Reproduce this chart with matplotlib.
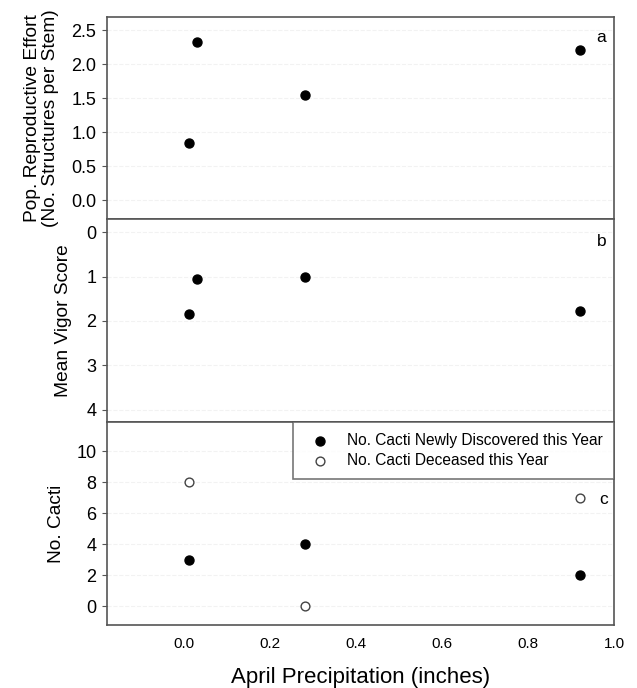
import numpy as np
from matplotlib import pyplot as plt

plt.rcParams['font.family'] = ['Liberation Sans', 'DejaVu Sans']

# April precipitation (inches) for each year
precip_a = [0.01, 0.03, 0.28, 0.92]
effort = [0.85, 2.33, 1.55, 2.21]

precip_b = [0.01, 0.03, 0.28, 0.92]
vigor = [1.85, 1.06, 1.01, 1.77]

precip_c = [0.01, 0.28, 0.92]
discovered = [3, 4, 2]
deceased = [8, 0, 7]

fig, axes = plt.subplots(3, 1, figsize=(6.37, 6.88), dpi=100, sharex=True)
fig.subplots_adjust(left=0.168, right=0.964, top=0.976, bottom=0.091, hspace=0)

frame = '#555555'
grid_col = '#f2f2f2'

for ax in axes:
    for s in ax.spines.values():
        s.set_color(frame)
        s.set_linewidth(1.2)
    ax.tick_params(axis='y', labelsize=13, length=3.6, color=frame, pad=4)
    ax.tick_params(axis='x', length=0, labelsize=11, pad=8)
    ax.set_xlim(-0.18, 1.0)

ax1, ax2, ax3 = axes

# panel a
ax1.scatter(precip_a, effort, s=42, color='black', zorder=3)
ax1.set_ylim(-0.28, 2.7)
ax1.set_yticks([0.0, 0.5, 1.0, 1.5, 2.0, 2.5])
ax1.set_yticklabels(['0.0', '0.5', '1.0', '1.5', '2.0', '2.5'])
ax1.set_ylabel('Pop. Reproductive Effort\n(No. Structures per Stem)', fontsize=13.8,
               linespacing=1.05, labelpad=9)
ax1.text(0.975, 0.895, 'a', transform=ax1.transAxes, fontsize=12.5, ha='center', va='center')

# panel b
ax2.scatter(precip_b, vigor, s=42, color='black', zorder=3)
ax2.set_ylim(4.29, -0.29)
ax2.set_yticks([0, 1, 2, 3, 4])
ax2.set_ylabel('Mean Vigor Score', fontsize=13.8, labelpad=10)
ax2.text(0.975, 0.89, 'b', transform=ax2.transAxes, fontsize=12.5, ha='center', va='center')

# panel c
ax3.scatter(precip_c, discovered, s=42, color='black', zorder=3,
            label='No. Cacti Newly Discovered this Year')
ax3.scatter(precip_c, deceased, s=40, facecolor='white', edgecolor='#444444',
            linewidths=1.0, zorder=3, label='No. Cacti Deceased this Year')
ax3.set_ylim(-1.22, 11.84)
ax3.set_yticks([0, 2, 4, 6, 8, 10])
ax3.set_ylabel('No. Cacti', fontsize=13.8, labelpad=8)
ax3.text(0.98, 0.62, 'c', transform=ax3.transAxes, fontsize=12.5, ha='center', va='center')
ax3.set_xticks([0.0, 0.2, 0.4, 0.6, 0.8, 1.0])
ax3.set_xticklabels(['0.0', '0.2', '0.4', '0.6', '0.8', '1.0'])
ax3.set_xlabel('April Precipitation (inches)', fontsize=16, labelpad=12)

leg = ax3.legend(loc='upper right', bbox_to_anchor=(1.0, 1.0), fontsize=11.2,
                 frameon=True, fancybox=False, borderaxespad=0, handletextpad=0.77,
                 borderpad=0.7, labelspacing=0.3, markerscale=1.0, handlelength=2.0)
leg.get_frame().set_edgecolor(frame)
leg.get_frame().set_linewidth(1.2)

for ax in axes:
    for t in ax.get_yticks():
        ax.axhline(t, color=grid_col, lw=0.8, ls='--', zorder=0)

fig.savefig('out.png', dpi=100)
